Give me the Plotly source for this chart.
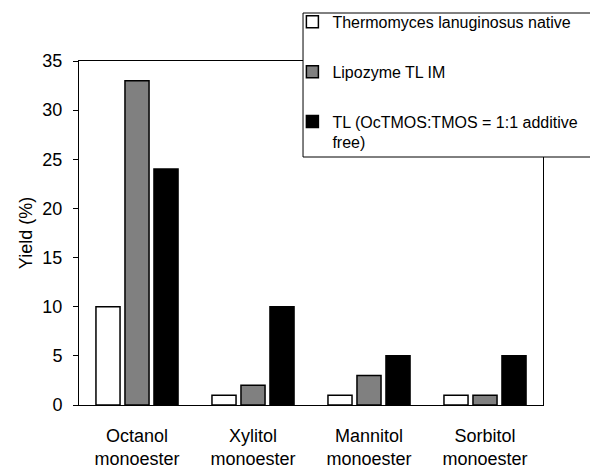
import plotly.graph_objects as go

categories = ["Octanol<br>monoester", "Xylitol<br>monoester", "Mannitol<br>monoester", "Sorbitol<br>monoester"]
native = [10, 1, 1, 1]
lipozyme = [33, 2, 3, 1]
tl_free = [24, 10, 5, 5]
series_names = ["Thermomyces lanuginosus native", "Lipozyme TL IM",
                "TL (OcTMOS:TMOS = 1:1 additive<br>free)"]
colors = ["#ffffff", "#808080", "#000000"]
y_ticks = [0, 5, 10, 15, 20, 25, 30, 35]

FAM = "Liberation Sans, Arial, sans-serif"
font = dict(family=FAM, size=18, color="black")

fig = go.Figure()
for i, (name, vals) in enumerate(zip(series_names, [native, lipozyme, tl_free])):
    fig.add_trace(go.Bar(
        x=categories, y=vals, name=name, legendgroup=f"g{i}",
        marker=dict(color=colors[i], line=dict(color="black", width=1.5)),
    ))

# legend frame (extends past the right edge, as in the original)
fig.add_shape(type="rect", xref="paper", yref="paper",
              x0=0.4828, x1=1.3, y0=0.7209, y1=1.1395,
              line=dict(color="black", width=1), fillcolor="white", layer="above")

fig.update_layout(
    width=590, height=465,
    margin=dict(l=71, r=55, t=53, b=68, autoexpand=False),
    paper_bgcolor="white", plot_bgcolor="white",
    font=font,
    barmode="group", bargap=0.25, bargroupgap=0.17,
    showlegend=True,
    legend=dict(
        x=0.4599, y=1.163, xanchor="left", yanchor="top",
        borderwidth=0, bgcolor="rgba(0,0,0,0)",
        font=dict(family=FAM, size=16, color="black"),
        traceorder="grouped", tracegroupgap=26, valign="top",
        itemwidth=30,
    ),
    xaxis=dict(
        showline=True, linecolor="black", linewidth=1, mirror=True,
        ticks="", showgrid=False, tickfont=dict(size=18),
        ticklabelstandoff=14,
    ),
    yaxis=dict(
        range=[0, 35], tickvals=y_ticks, showline=True, linecolor="black",
        linewidth=1, mirror=True, ticks="outside", ticklen=5, tickcolor="black",
        showgrid=False, zeroline=False, tickfont=dict(size=18),
        ticklabelstandoff=7,
        title=dict(text="Yield (%)", font=dict(size=18), standoff=5),
    ),
)

fig.write_html("out.html")
